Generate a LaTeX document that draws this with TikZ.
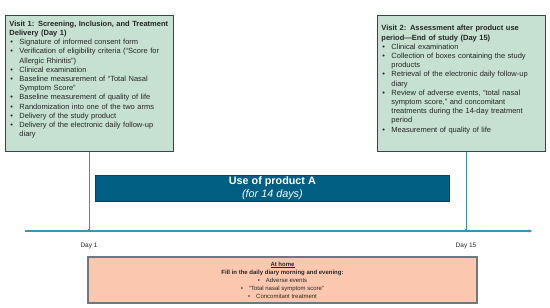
\documentclass[tikz,border=0pt]{standalone}
\usepackage{fontspec}
\setmainfont{Liberation Sans}
\usepackage{tikz}
\usetikzlibrary{positioning,arrows.meta}
\definecolor{visitfill}{HTML}{C6E0D2}
\definecolor{visitdraw}{HTML}{2F4858}
\definecolor{barfill}{HTML}{005F83}
\definecolor{barline}{HTML}{1F3A4A}
\definecolor{tline}{HTML}{3C91B6}
\definecolor{homefill}{HTML}{FBC7AE}
\definecolor{homedraw}{HTML}{6B7A80}
\definecolor{ink}{HTML}{262626}
\newcommand{\itm}[1]{\par\hangindent=10pt\hangafter=1\noindent\makebox[10pt][l]{\hspace{1pt}\textbullet}#1}
\tikzset{
  visita/.style={draw=visitdraw,line width=0.9pt,fill=visitfill,anchor=north west,text width=160pt,
    minimum height=136pt,inner xsep=4pt,inner ysep=2pt,align=left,text=ink,font=\fontsize{7.5}{9.2}\selectfont},
  barra/.style={draw=barline,line width=0.8pt,fill=barfill,anchor=north west,minimum width=354pt,
    minimum height=26pt,inner sep=0pt,align=center,text=white,font=\fontsize{10.8}{12.8}\selectfont},
  casa/.style={draw=homedraw,line width=1.4pt,fill=homefill,minimum width=389pt,minimum height=46pt,
    inner sep=1pt,align=center,text=ink,font=\fontsize{6}{8}\selectfont},
  eje/.style={-{Stealth[length=3pt,width=3pt]},line width=1.1pt,color=tline},
  guia/.style={-{Stealth[length=2.5pt,width=2.5pt]},line width=0.8pt,color=tline},
  dia/.style={font=\fontsize{6.5}{7.5}\selectfont,text=ink,inner sep=1pt},
}
\begin{document}
\begin{tikzpicture}[x=1pt,y=-1pt]
  \useasboundingbox (0,0) rectangle (550,308);
  \node[visita] (visit1) at (5,15) {\textbf{Visit 1: Screening, Inclusion, and Treatment\newline Delivery (Day 1)}
    \itm{Signature of informed consent form}
    \itm{Verification of eligibility criteria (“Score for\newline Allergic Rhinitis”)}
    \itm{Clinical examination}
    \itm{Baseline measurement of “Total Nasal\newline Symptom Score”}
    \itm{Baseline measurement of quality of life}
    \itm{Randomization into one of the two arms}
    \itm{Delivery of the study product}
    \itm{Delivery of the electronic daily follow-up\newline diary}\par\mbox{}};
  \node[visita] (visit2) at (377,15) {\textbf{Visit 2: Assessment after product use\newline period---End of study (Day 15)}
    \itm{Clinical examination}
    \itm{Collection of boxes containing the study\newline products}
    \itm{Retrieval of the electronic daily follow-up\newline diary}
    \itm{Review of adverse events, “total nasal\newline symptom score,” and concomitant\newline treatments during the 14-day treatment\newline period}
    \itm{Measurement of quality of life}\par\mbox{}};
  \node[barra] (uso) at (95,175) {\textbf{Use of product A}\\{\itshape (for 14 days)}};
  \coordinate (tl0) at (25,231);
  \coordinate (tl1) at (532,231);
  \coordinate (d1) at (89,231);
  \coordinate (d15) at (466,231);
  \draw[eje] (tl0) -- (tl1);
  \draw[guia] (d1 |- visit1.south) -- (d1);
  \draw[guia] (d15 |- visit2.south) -- (d15);
  \node[dia,below=10.5pt of d1] (day1) {Day 1};
  \node[dia,below=10.5pt of d15] (day15) {Day 15};
  \node[casa] (home) at (282.5,280) {\underline{\textbf{At home}}\\
    \textbf{Fill in the daily diary morning and evening:}\\
    \textbullet\quad Adverse events\\
    \textbullet\quad “Total nasal symptom score”\\
    \textbullet\quad Concomitant treatment};
\end{tikzpicture}
\end{document}
